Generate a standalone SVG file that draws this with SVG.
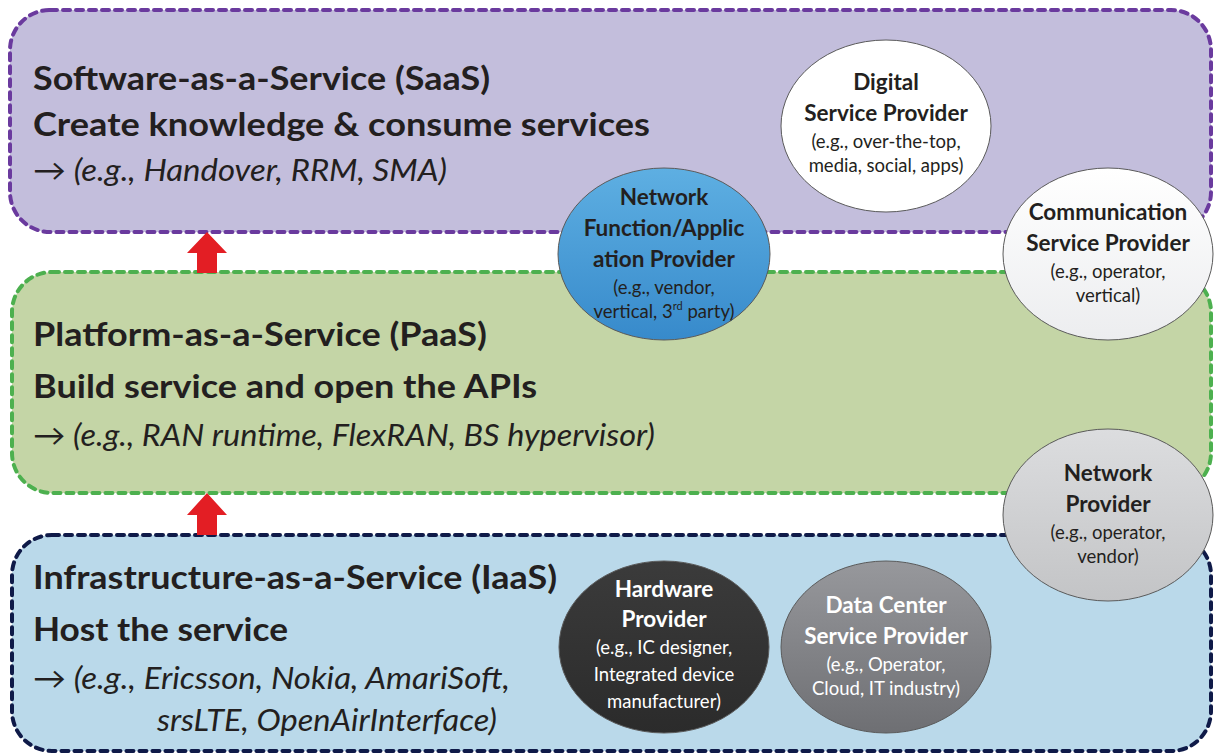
<svg xmlns="http://www.w3.org/2000/svg" width="1214" height="756" viewBox="0 0 1214 756">
<defs>
<linearGradient id="gBlue" x1="0" y1="0" x2="0" y2="1"><stop offset="0" stop-color="#5EAFE2"/><stop offset="1" stop-color="#378ACB"/></linearGradient>
<linearGradient id="gWhite" x1="0" y1="0" x2="0" y2="1"><stop offset="0" stop-color="#FFFFFF"/><stop offset="1" stop-color="#ECEDEF"/></linearGradient>
<linearGradient id="gLight" x1="0" y1="0" x2="0" y2="1"><stop offset="0" stop-color="#DCDDDF"/><stop offset="1" stop-color="#C3C4C6"/></linearGradient>
<linearGradient id="gMid" x1="0" y1="0" x2="0" y2="1"><stop offset="0" stop-color="#97989C"/><stop offset="1" stop-color="#6E6F73"/></linearGradient>
<linearGradient id="gDark" x1="0" y1="0" x2="0" y2="1"><stop offset="0" stop-color="#3B3B3B"/><stop offset="1" stop-color="#2B2B2B"/></linearGradient>
</defs>
<style>
.box{stroke-width:4;stroke-dasharray:7 6;stroke-linecap:round}
.h{font-family:Lato,"Open Sans",sans-serif;font-weight:700;font-size:33px;fill:#231F20}
.e{font-family:Lato,"Open Sans",sans-serif;font-style:italic;font-size:30px;fill:#231F20}
.ar{font-style:normal}
.cb{font-family:Lato,"Open Sans",sans-serif;font-weight:700;font-size:22.5px;text-anchor:middle;fill:#231F20}
.cr{font-family:Lato,"Open Sans",sans-serif;font-size:18.5px;text-anchor:middle;fill:#231F20}
.w{fill:#FFFFFF}
.circ{stroke:#5A5A5A;stroke-width:1}
.arrow{fill:#E31E24}
</style>

<g id="saas">
<rect class="box" x="10" y="10" width="1201" height="222" rx="40" ry="40" fill="#C3BEDC" stroke="#6A3A9E"/>
<text class="h" x="33" y="90" textLength="457" lengthAdjust="spacingAndGlyphs">Software-as-a-Service (SaaS)</text>
<text class="h" x="33" y="136" textLength="617" lengthAdjust="spacingAndGlyphs">Create knowledge &amp; consume services</text>
<text class="e" x="33" y="181" textLength="414" lengthAdjust="spacingAndGlyphs"><tspan class="ar">→</tspan> (e.g., Handover, RRM, SMA)</text>
</g>

<g id="paas">
<rect class="box" x="12" y="272" width="1199" height="221" rx="40" ry="40" fill="#C4D5A6" stroke="#4DB04F"/>
<text class="h" x="33" y="346" textLength="454" lengthAdjust="spacingAndGlyphs">Platform-as-a-Service (PaaS)</text>
<text class="h" x="33" y="398" textLength="504" lengthAdjust="spacingAndGlyphs">Build service and open the APIs</text>
<text class="e" x="33" y="446" textLength="622" lengthAdjust="spacingAndGlyphs"><tspan class="ar">→</tspan> (e.g., RAN runtime, FlexRAN, BS hypervisor)</text>
</g>

<g id="iaas">
<rect class="box" x="12" y="535" width="1199" height="216" rx="40" ry="40" fill="#BAD9EA" stroke="#0F1A48"/>
<text class="h" x="33" y="589" textLength="524" lengthAdjust="spacingAndGlyphs">Infrastructure-as-a-Service (IaaS)</text>
<text class="h" x="33" y="641" textLength="255" lengthAdjust="spacingAndGlyphs">Host the service</text>
<text class="e" x="33" y="689" textLength="477" lengthAdjust="spacingAndGlyphs"><tspan class="ar">→</tspan> (e.g., Ericsson, Nokia, AmariSoft,</text>
<text class="e" x="157" y="731" textLength="340" lengthAdjust="spacingAndGlyphs">srsLTE, OpenAirInterface)</text>
</g>

<g id="connectors">
<polygon class="arrow" points="207,232 227,253 217,253 217,273 197,273 197,253 187,253"/>
<polygon class="arrow" points="207,493 227,515 217,515 217,535 197,535 197,515 187,515"/>
</g>

<g id="digital-service-provider">
<ellipse class="circ" cx="886" cy="126" rx="105" ry="86" fill="#FFFFFF"/>
<text class="cb" x="886" y="90">Digital</text>
<text class="cb" x="886" y="121">Service Provider</text>
<text class="cr" x="886" y="148">(e.g., over-the-top,</text>
<text class="cr" x="886" y="172">media, social, apps)</text>
</g>

<g id="network-function-provider">
<ellipse class="circ" cx="664" cy="254" rx="106" ry="86" fill="url(#gBlue)"/>
<text class="cb" x="664" y="205">Network</text>
<text class="cb" x="664" y="236">Function/Applic</text>
<text class="cb" x="664" y="267">ation Provider</text>
<text class="cr" x="664" y="294">(e.g., vendor,</text>
<text class="cr" x="664" y="318">vertical, 3<tspan font-size="11" dy="-8">rd</tspan><tspan dy="8"> party)</tspan></text>
</g>

<g id="communication-service-provider">
<ellipse class="circ" cx="1108" cy="254" rx="105" ry="86" fill="url(#gWhite)"/>
<text class="cb" x="1108" y="220">Communication</text>
<text class="cb" x="1108" y="251">Service Provider</text>
<text class="cr" x="1108" y="278">(e.g., operator,</text>
<text class="cr" x="1108" y="302">vertical)</text>
</g>

<g id="network-provider">
<ellipse class="circ" cx="1108" cy="515" rx="105" ry="86" fill="url(#gLight)"/>
<text class="cb" x="1108" y="481">Network</text>
<text class="cb" x="1108" y="512">Provider</text>
<text class="cr" x="1108" y="539">(e.g., operator,</text>
<text class="cr" x="1108" y="563">vendor)</text>
</g>

<g id="hardware-provider">
<ellipse class="circ" cx="664" cy="647" rx="105" ry="86" fill="url(#gDark)"/>
<text class="cb w" x="664" y="597">Hardware</text>
<text class="cb w" x="664" y="627">Provider</text>
<text class="cr w" x="664" y="654">(e.g., IC designer,</text>
<text class="cr w" x="664" y="681">Integrated device</text>
<text class="cr w" x="664" y="708">manufacturer)</text>
</g>

<g id="data-center-service-provider">
<ellipse class="circ" cx="886" cy="647" rx="105" ry="86" fill="url(#gMid)"/>
<text class="cb w" x="886" y="613">Data Center</text>
<text class="cb w" x="886" y="644">Service Provider</text>
<text class="cr w" x="886" y="671">(e.g., Operator,</text>
<text class="cr w" x="886" y="695">Cloud, IT industry)</text>
</g>
</svg>
